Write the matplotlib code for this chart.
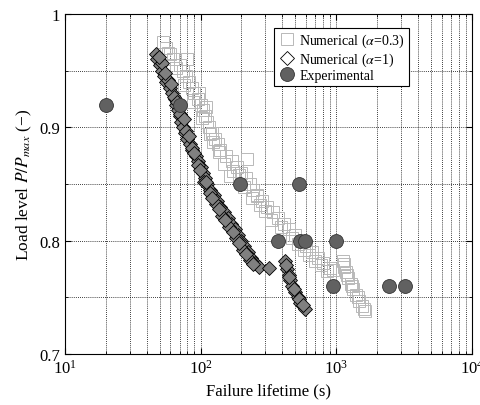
import numpy as np
import matplotlib.pyplot as plt
from matplotlib.lines import Line2D
from matplotlib.ticker import FixedLocator, FuncFormatter, LogLocator, NullFormatter

plt.rcParams['font.family'] = ['Liberation Serif', 'DejaVu Serif']
plt.rcParams['mathtext.fontset'] = 'stix'

# numerical, alpha = 0.3 (light squares)
num03_t = [53, 56, 60, 63, 79, 70, 74, 78, 82, 86, 90, 95, 100, 104, 108, 112,
           116, 121, 127, 134, 140, 155, 170, 185, 200, 215, 230, 245, 262, 285,
           310, 340, 370, 410, 450, 500, 550, 600, 660, 730, 800, 900, 944,
           1120, 1150, 1180, 1220, 1280, 1340, 1400, 1480, 1550, 1620,
           123, 220, 174, 260, 98, 110,
           58, 66, 76, 88, 103, 118, 136, 150, 165, 192, 208, 238, 272, 298,
           330, 390, 470, 525, 575, 630, 700, 770, 860, 1135, 1200, 1310, 1440, 1590]
num03_p = [0.975, 0.970, 0.965, 0.960, 0.960, 0.955, 0.950, 0.945, 0.940, 0.935,
           0.930, 0.925, 0.920, 0.915, 0.910, 0.905, 0.900, 0.895, 0.890, 0.885,
           0.880, 0.875, 0.870, 0.865, 0.860, 0.855, 0.850, 0.845, 0.840, 0.835,
           0.830, 0.825, 0.820, 0.815, 0.810, 0.805, 0.800, 0.795, 0.790, 0.785,
           0.780, 0.776, 0.774,
           0.782, 0.777, 0.772, 0.767, 0.762, 0.757, 0.752, 0.747, 0.742, 0.738,
           0.887, 0.872, 0.861, 0.839, 0.930, 0.918,
           0.966, 0.952, 0.937, 0.922, 0.908, 0.894, 0.878, 0.868, 0.857, 0.858,
           0.847, 0.838, 0.831, 0.826, 0.818, 0.812, 0.802, 0.797, 0.792, 0.787,
           0.782, 0.778, 0.773, 0.779, 0.770, 0.760, 0.750, 0.740]

# numerical, alpha = 1 (diamonds)
num1_t = [47, 48, 50, 52, 54, 56, 60, 62, 65, 66, 68, 70, 72, 74, 77, 80, 83,
          87, 92, 96, 100, 104, 108, 112, 118, 125, 132, 140, 148, 158, 168,
          178, 188, 198, 210, 222, 235, 250, 270, 318,
          420, 432, 445, 460, 475, 500, 520, 545, 590,
          52, 58, 64, 71, 78, 86, 95, 106, 117, 130, 145, 162, 182, 205, 230,
          49, 55, 61, 67, 75, 82, 90, 99, 110, 122, 136, 152, 172, 193, 216, 242,
          425, 452, 485, 530, 570]
num1_p = [0.965, 0.960, 0.955, 0.950, 0.945, 0.940, 0.935, 0.930, 0.925, 0.920,
          0.915, 0.910, 0.905, 0.900, 0.895, 0.890, 0.885, 0.880, 0.875, 0.870,
          0.865, 0.860, 0.855, 0.850, 0.845, 0.840, 0.835, 0.830, 0.825, 0.820,
          0.815, 0.810, 0.805, 0.800, 0.795, 0.790, 0.785, 0.780, 0.777, 0.776,
          0.782, 0.775, 0.770, 0.765, 0.760, 0.755, 0.750, 0.745, 0.740,
          0.957, 0.942, 0.927, 0.912, 0.897, 0.882, 0.867, 0.852, 0.842, 0.832,
          0.822, 0.812, 0.802, 0.792, 0.783,
          0.962, 0.948, 0.938, 0.922, 0.907, 0.892, 0.877, 0.862, 0.852, 0.838,
          0.828, 0.818, 0.808, 0.798, 0.788, 0.779,
          0.778, 0.768, 0.757, 0.748, 0.743]

# experimental
exp_t = [20, 70, 195, 535, 370, 540, 590, 1000, 950, 2450, 3200]
exp_p = [0.92, 0.92, 0.85, 0.85, 0.80, 0.80, 0.80, 0.80, 0.76, 0.76, 0.76]

fig = plt.figure(figsize=(4.81, 4.06), dpi=100)
ax = fig.add_axes([0.135, 0.126, 0.846, 0.837])

ax.plot(num03_t, num03_p, ls='none', marker='s', ms=8, mfc='none',
        mec='0.72', mew=0.7)
ax.plot(num1_t, num1_p, ls='none', marker='D', ms=7.5, mfc='0.5',
        mec='black', mew=0.6)
ax.plot(exp_t, exp_p, ls='none', marker='o', ms=10, mfc='0.38',
        mec='0.2', mew=0.6)

ax.set_xscale('log')
ax.set_xlim(10, 1e4)
ax.set_ylim(0.7, 1.0)

ax.yaxis.set_major_locator(FixedLocator([0.7, 0.8, 0.9, 1.0]))
ax.yaxis.set_minor_locator(FixedLocator([0.75, 0.85, 0.95]))
ax.yaxis.set_major_formatter(FuncFormatter(lambda v, p: '%g' % v))
ax.xaxis.set_minor_locator(LogLocator(base=10, subs=np.arange(2, 10)))
ax.xaxis.set_minor_formatter(NullFormatter())

ax.grid(True, which='both', ls=(0, (1, 1.5)), color='black', lw=0.6)
ax.tick_params(which='both', direction='in', labelsize=12, top=True, right=True)
ax.tick_params(which='major', length=4)
ax.tick_params(which='minor', length=2)

ax.set_xlabel('Failure lifetime (s)', fontsize=12)
ax.set_ylabel(r'Load level $P/P_{max}$ (−)', fontsize=12.5)

handles = [
    Line2D([], [], ls='none', marker='s', ms=8, mfc='none', mec='0.72', mew=0.7),
    Line2D([], [], ls='none', marker='D', ms=7.5, mfc='white', mec='black', mew=0.6),
    Line2D([], [], ls='none', marker='o', ms=10, mfc='0.38', mec='0.2', mew=0.6),
]
labels = [r'Numerical ($\alpha$=0.3)', r'Numerical ($\alpha$=1)', 'Experimental']
leg = ax.legend(handles, labels, loc='upper right', bbox_to_anchor=(0.845, 0.96),
                fontsize=10, fancybox=False, framealpha=1, edgecolor='black',
                handletextpad=0.3, borderpad=0.3, labelspacing=0.1,
                handlelength=1.2, borderaxespad=0)
leg.get_frame().set_linewidth(0.8)

fig.savefig('out.png', dpi=100)
